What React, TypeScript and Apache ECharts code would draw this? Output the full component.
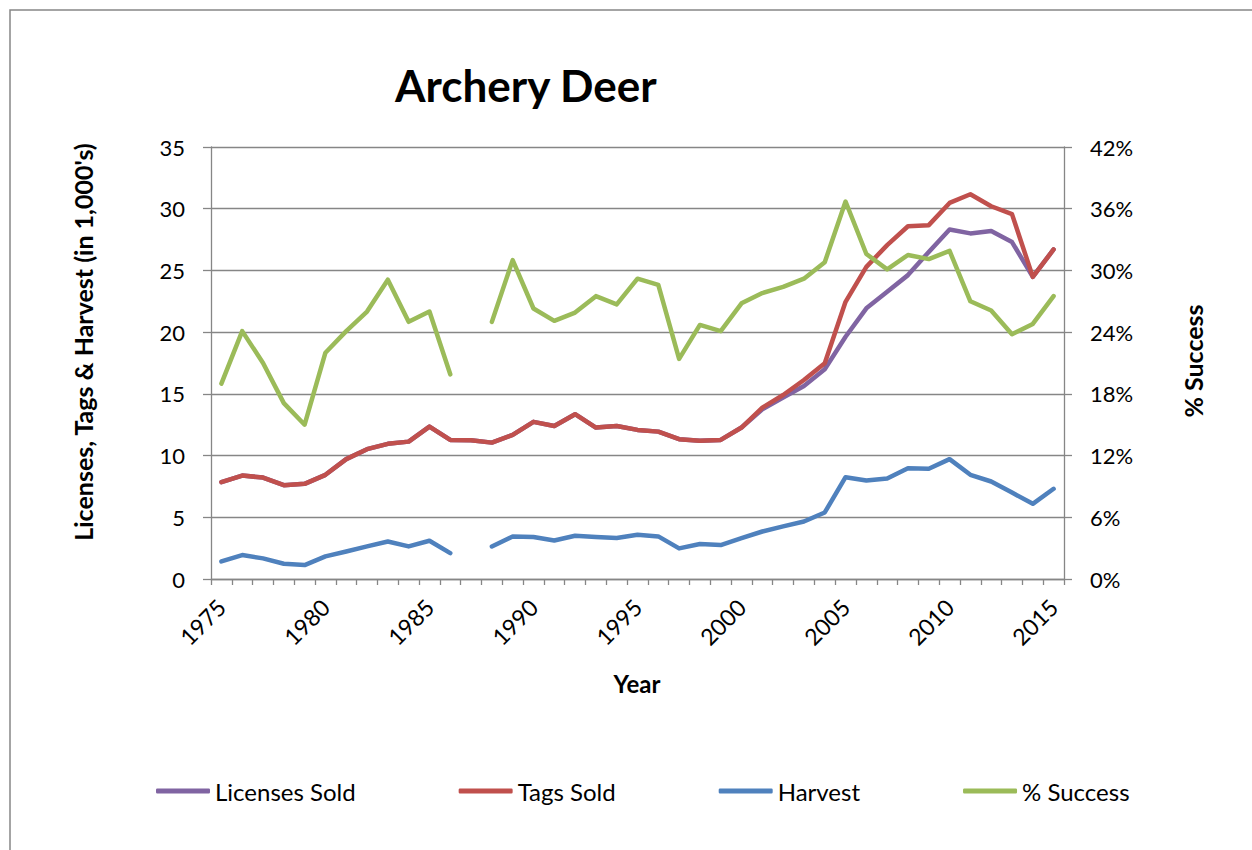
import React, { useEffect, useRef } from "react";
import * as echarts from "echarts";

const years = [
  "1975", "1976", "1977", "1978", "1979", "1980", "1981", "1982", "1983", "1984",
  "1985", "1986", "1987", "1988", "1989", "1990", "1991", "1992", "1993", "1994",
  "1995", "1996", "1997", "1998", "1999", "2000", "2001", "2002", "2003", "2004",
  "2005", "2006", "2007", "2008", "2009", "2010", "2011", "2012", "2013", "2014", "2015",
];

const licensesSold = [
  7.85, 8.38, 8.22, 7.6, 7.71, 8.44, 9.71, 10.52, 10.95, 11.13, 12.35, 11.27, 11.25,
  11.05, 11.67, 12.73, 12.4, 13.35, 12.27, 12.4, 12.08, 11.94, 11.33, 11.21, 11.27, 12.27,
  13.75, 14.7, 15.64, 16.99, 19.63, 21.93, 23.27, 24.62, 26.5, 28.32, 28.0, 28.2, 27.3, 24.48, 26.7,
];

const tagsSold = [
  7.85, 8.38, 8.22, 7.6, 7.71, 8.44, 9.71, 10.52, 10.95, 11.13, 12.35, 11.27, 11.25,
  11.05, 11.67, 12.73, 12.4, 13.35, 12.27, 12.4, 12.08, 11.94, 11.33, 11.21, 11.27, 12.27,
  13.89, 14.91, 16.12, 17.48, 22.46, 25.29, 27.05, 28.58, 28.67, 30.47, 31.17, 30.2, 29.56, 24.48, 26.7,
];

const harvest = [
  1.42, 1.94, 1.67, 1.24, 1.13, 1.83, 2.23, 2.64, 3.04, 2.64, 3.1, 2.1, null,
  2.64, 3.45, 3.4, 3.12, 3.5, 3.4, 3.32, 3.58, 3.45, 2.48, 2.83, 2.75, 3.32, 3.85, 4.26,
  4.66, 5.39, 8.25, 7.98, 8.14, 8.98, 8.93, 9.71, 8.44, 7.9, 7.0, 6.09, 7.31,
];

const successPct = [
  19.0, 24.1, 21.0, 17.1, 15.0, 22.0, 24.1, 26.0, 29.1, 25.0, 26.0, 19.9, null,
  25.0, 31.0, 26.3, 25.1, 25.9, 27.5, 26.7, 29.2, 28.6, 21.4, 24.7, 24.1, 26.8, 27.8, 28.4,
  29.2, 30.8, 36.7, 31.6, 30.1, 31.5, 31.1, 31.9, 27.0, 26.1, 23.8, 24.8, 27.5,
];

const FONT = "Lato, 'Noto Sans', sans-serif";
const GRAY = "#868686";

export default function App() {
  const ref = useRef<HTMLDivElement>(null);
  useEffect(() => {
    if (!ref.current) return;
    const chart = echarts.init(ref.current, undefined, { renderer: "svg" });
    const lineSeries = (name: string, data: (number | null)[], color: string, yAxisIndex = 0) => ({
      name,
      type: "line",
      data,
      yAxisIndex,
      symbol: "none",
      connectNulls: false,
      lineStyle: { color, width: 4.5, cap: "round", join: "round" },
      itemStyle: { color },
    });
    chart.setOption({
      animation: false,
      backgroundColor: "#ffffff",
      textStyle: { fontFamily: FONT },
      grid: { left: 211, right: 188, top: 147, bottom: 271, containLabel: false },
      graphic: [
        {
          type: "rect",
          shape: { x: 10, y: 10, width: 1270, height: 870 },
          style: { fill: "none", stroke: GRAY, lineWidth: 1.5 },
          silent: true,
        },
        {
          type: "text",
          x: 395,
          y: 85,
          style: {
            text: "Archery Deer",
            fontFamily: FONT,
            fontWeight: "bold",
            fontSize: 44,
            fill: "#000",
            align: "left",
            verticalAlign: "middle",
          },
        },
        {
          type: "text",
          x: 83,
          y: 342,
          rotation: Math.PI / 2,
          style: {
            text: "Licenses, Tags & Harvest (in 1,000's)",
            fontFamily: FONT,
            fontWeight: "bold",
            fontSize: 25,
            fill: "#000",
            align: "center",
            verticalAlign: "middle",
          },
        },
        {
          type: "text",
          x: 1193,
          y: 361,
          rotation: Math.PI / 2,
          style: {
            text: "% Success",
            fontFamily: FONT,
            fontWeight: "bold",
            fontSize: 25,
            fill: "#000",
            align: "center",
            verticalAlign: "middle",
          },
        },
        {
          type: "text",
          x: 637,
          y: 683,
          style: {
            text: "Year",
            fontFamily: FONT,
            fontWeight: "bold",
            fontSize: 24,
            fill: "#000",
            align: "center",
            verticalAlign: "middle",
          },
        },
      ],
      legend: {
        left: 156,
        top: 778,
        padding: 0,
        itemGap: 103,
        itemWidth: 54,
        itemHeight: 5,
        icon: "roundRect",
        textStyle: { fontFamily: FONT, fontSize: 24, color: "#000", lineHeight: 26 },
        data: ["Licenses Sold", "Tags Sold", "Harvest", "% Success"],
      },
      xAxis: {
        type: "category",
        data: years,
        boundaryGap: true,
        axisLine: { lineStyle: { color: GRAY, width: 1.3 } },
        axisTick: { show: true, interval: 0, alignWithLabel: false, length: 6, lineStyle: { color: GRAY, width: 1.3 } },
        axisLabel: {
          interval: 4,
          rotate: 45,
          margin: 24,
          fontSize: 23,
          fontFamily: FONT,
          color: "#000",
        },
        splitLine: { show: false },
      },
      yAxis: [
        {
          type: "value",
          min: 0,
          max: 35,
          interval: 5,
          axisLine: { show: true, lineStyle: { color: GRAY, width: 1.3 } },
          axisTick: { show: true, length: 8, lineStyle: { color: GRAY, width: 1.3 } },
          axisLabel: { margin: 26, fontSize: 22, fontFamily: FONT, color: "#000" },
          splitLine: { show: true, lineStyle: { color: GRAY, width: 1.3 } },
        },
        {
          type: "value",
          min: 0,
          max: 42,
          interval: 6,
          position: "right",
          axisLine: { show: true, lineStyle: { color: GRAY, width: 1.3 } },
          axisTick: { show: true, length: 8, lineStyle: { color: GRAY, width: 1.3 } },
          axisLabel: { margin: 26, fontSize: 22, fontFamily: FONT, color: "#000", formatter: "{value}%" },
          splitLine: { show: false },
        },
      ],
      series: [
        lineSeries("Licenses Sold", licensesSold, "#8064A2"),
        lineSeries("Tags Sold", tagsSold, "#C0504D"),
        lineSeries("Harvest", harvest, "#4F81BD"),
        lineSeries("% Success", successPct, "#9BBB59", 1),
      ],
    });
    return () => chart.dispose();
  }, []);
  return (
    <div
      ref={ref}
      style={{ position: "absolute", left: 0, top: 0, width: 1252, height: 850 }}
    />
  );
}
